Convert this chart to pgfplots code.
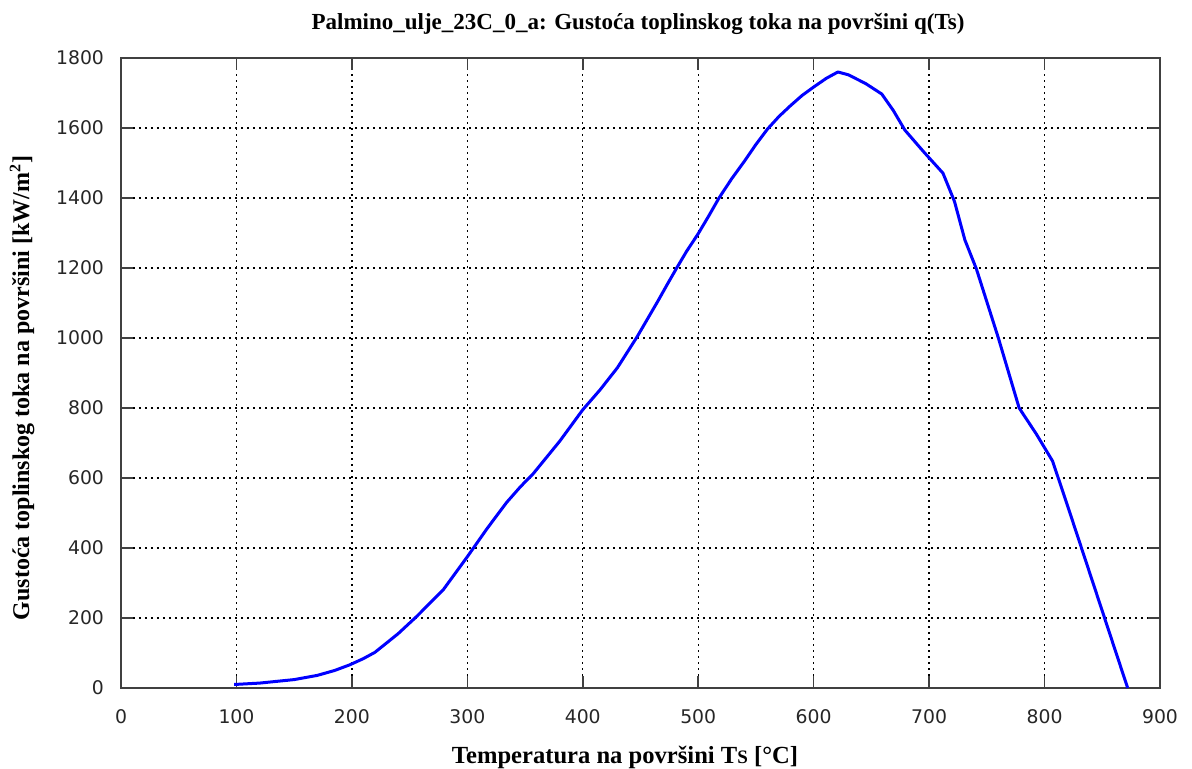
\documentclass[border=0pt]{standalone}
\usepackage{fontspec}
\setmainfont{Liberation Serif}
\newfontfamily\tickfont{DejaVu Sans}
\usepackage{pgfplots}
\pgfplotsset{compat=1.18}
\begin{document}
\begin{tikzpicture}
\useasboundingbox (-60.5pt,-40.5pt) rectangle (535.5pt,344pt);
\begin{axis}[
  scale only axis,
  width=519.5pt, height=315pt,
  xmin=0, xmax=900, ymin=0, ymax=1800,
  xtick={0,100,...,900}, ytick={0,200,...,1800},
  tick align=inside, major tick length=6pt,
  xtick pos=both, ytick pos=both,
  grid=major,
  major grid style={black, line width=0.7pt, dash pattern=on 0.8pt off 2.2pt},
  axis line style={black!75, line width=0.8pt},
  tick style={black!75, line width=0.8pt},
  /pgf/number format/assume math mode=true,
  /pgf/number format/1000 sep={},
  ticklabel style={font=\tickfont\fontsize{9.4}{10}\selectfont, text=black!85},
  xticklabel style={yshift=-7pt},
  yticklabel style={xshift=-5pt},
  clip=false,
]
\addplot[color={rgb,255:red,0;green,0;blue,255}, line width=1.5pt, line join=round] coordinates {
(98,10) (120,14) (150,24) (170,36) (185,50) (198,66) (210,84) (220,102)
(240,155) (256,204) (279,280) (300,375) (317,455) (334,530) (346,575) (357,612)
(380,705) (400,795) (415,852) (430,915) (447,1003) (465,1105) (473,1152) (481,1198)
(490,1248) (500,1298) (509,1348) (518,1400) (529,1455) (540,1505) (550,1553)
(560,1597) (570,1633) (580,1664) (590,1693) (600,1717)
(611,1742) (621,1760) (630,1752) (645,1727) (659,1697) (669,1650) (679,1594)
(695,1533) (712,1471) (722,1390) (731,1280) (741,1197) (760,1000) (778,800)
(793,725) (807,648) (822,500) (838,340) (855,170) (872,0)
};
\end{axis}
\node[font=\bfseries\fontsize{11.5}{13}\selectfont] at (258.5pt,332pt) {Palmino\_ulje\_23C\_0\_a: Gustoća toplinskog toka na površini q(Ts)};
\node[font=\bfseries\fontsize{12.3}{14}\selectfont] at (252pt,-34.5pt) {Temperatura na površini T{\fontsize{9.5}{10}\selectfont S} [\textdegree C]};
\node[font=\bfseries\fontsize{12}{14}\selectfont, rotate=90] at (-49.5pt,150pt) {Gustoća toplinskog toka na površini [kW/m\textsuperscript{2}]};
\end{tikzpicture}
\end{document}
